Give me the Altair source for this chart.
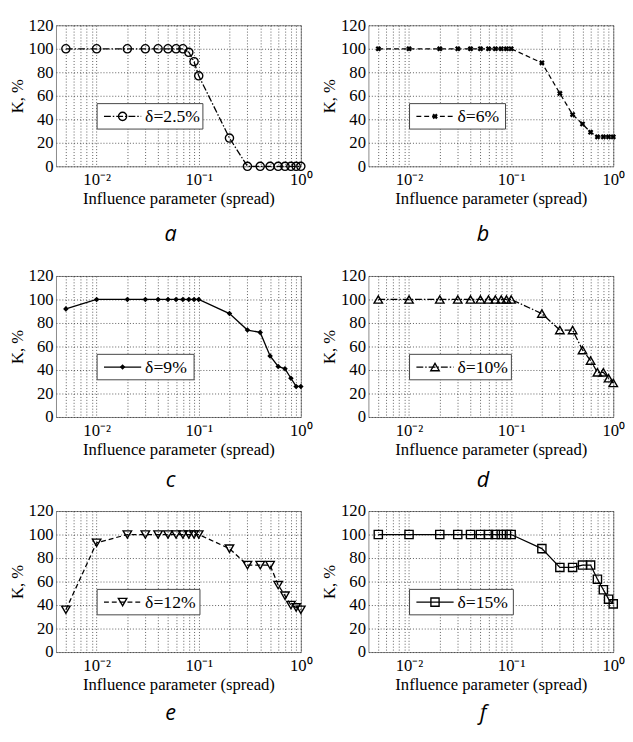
import altair as alt
import pandas as pd

# ---- data ----
spread = [0.005, 0.01, 0.02, 0.03, 0.04, 0.05, 0.06, 0.07, 0.08, 0.09, 0.1,
          0.2, 0.3, 0.4, 0.5, 0.6, 0.7, 0.8, 0.9, 1.0]

k_a = [100, 100, 100, 100, 100, 100, 100, 100, 97, 89, 77, 24, 0, 0, 0, 0, 0, 0, 0, 0]
k_b = [100, 100, 100, 100, 100, 100, 100, 100, 100, 100, 100, 88, 62, 44, 36, 29, 25, 25, 25, 25]
k_c = [92, 100, 100, 100, 100, 100, 100, 100, 100, 100, 100, 88, 74, 72, 52, 43, 41, 33, 26, 26]
k_d = [100, 100, 100, 100, 100, 100, 100, 100, 100, 100, 100, 88, 74, 74, 57, 48, 38, 38, 33, 29]
k_e = [36, 93, 100, 100, 100, 100, 100, 100, 100, 100, 100, 88, 74, 74, 74, 57, 48, 40, 38, 36]
k_f = [100, 100, 100, 100, 100, 100, 100, 100, 100, 100, 100, 88, 72, 72, 74, 74, 62, 53, 45, 41]

legend_labels = ["δ=2.5%", "δ=6%", "δ=9%", "δ=10%", "δ=12%", "δ=15%"]
captions = ["a", "b", "c", "d", "e", "f"]
series = [k_a, k_b, k_c, k_d, k_e, k_f]

x_grid = [0.005, 0.006, 0.007, 0.008, 0.009,
          0.01, 0.02, 0.03, 0.04, 0.05, 0.06, 0.07, 0.08, 0.09,
          0.1, 0.2, 0.3, 0.4, 0.5, 0.6, 0.7, 0.8, 0.9, 1.0]
y_ticks = [0, 20, 40, 60, 80, 100, 120]

# ---- styles ----
W, H = 250, 144
SERIF = "Liberation Serif"
dash_styles = [[7, 2, 1.5, 2], [5, 3], None, [7, 2, 1.5, 2], [5, 3], None]
marker_styles = [
    dict(shape="circle", size=70, filled=False),
    dict(shape="cross", size=34, filled=True, angle=45),
    dict(shape="diamond", size=32, filled=True),
    dict(shape="triangle-up", size=75, filled=False),
    dict(shape="triangle-down", size=75, filled=False),
    dict(shape="square", size=70, filled=False),
]
legend_box_w = [108, 98, 99, 104, 105, 106]
caption_y = [213, 213, 208, 208, 206, 206]

label_expr = ("datum.value == 0.01 ? '10⁻²' : datum.value == 0.1 ? '10⁻¹' : "
              "datum.value == 1 ? '10⁰' : ''")


def panel(i):
    df = pd.DataFrame({"spread": spread, "K": series[i]})
    x = alt.X("spread:Q",
              scale=alt.Scale(type="log", domain=[0.004, 1]),
              axis=alt.Axis(values=x_grid, labelExpr=label_expr, labelOverlap=False,
                            labelFlush=False, grid=True, gridDash=[1, 2],
                            gridColor="#333", gridWidth=0.8, tickSize=0, domain=False,
                            labelPadding=6, title="Influence parameter (spread)",
                            titlePadding=3))
    y = alt.Y("K:Q",
              scale=alt.Scale(domain=[0, 120]),
              axis=alt.Axis(values=y_ticks, grid=True, gridDash=[1, 2],
                            gridColor="#333", gridWidth=0.8, tickSize=0, domain=False,
                            labelPadding=3, title="K, %", titlePadding=2))

    line_kw = dict(color="black", strokeWidth=1.3)
    if dash_styles[i] is not None:
        line_kw["strokeDash"] = dash_styles[i]
    m = marker_styles[i]
    pt_kw = dict(shape=m["shape"], size=m["size"], filled=m["filled"],
                 color="black", strokeWidth=1.4, opacity=1)
    if "angle" in m:
        pt_kw["angle"] = m["angle"]

    base = alt.Chart(df)
    line = base.mark_line(**line_kw).encode(x=x, y=y)
    pts = base.mark_point(**pt_kw).encode(x=x, y=y)

    one = pd.DataFrame({"lab": [legend_labels[i]], "cap": [captions[i]]})
    bx, by = 42, 80
    bw, bh = legend_box_w[i], 26
    lg = alt.Chart(one)
    box = lg.mark_rect(fill="white", stroke="#444", strokeWidth=1).encode(
        x=alt.value(bx), x2=alt.value(bx + bw), y=alt.value(by), y2=alt.value(by + bh))
    sample = lg.mark_rule(**line_kw).encode(
        x=alt.value(bx + 7), x2=alt.value(bx + 45),
        y=alt.value(by + bh / 2), y2=alt.value(by + bh / 2))
    mk = lg.mark_point(**pt_kw).encode(x=alt.value(bx + 26), y=alt.value(by + bh / 2))
    txt = lg.mark_text(font=SERIF, fontSize=18, align="left", baseline="middle",
                       color="black").encode(
        x=alt.value(bx + 49), y=alt.value(by + bh / 2 + 1), text="lab:N")
    cap = lg.mark_text(font="Open Sans", fontStyle="italic", fontSize=22,
                       align="center", baseline="middle", color="black").encode(
        x=alt.value(W / 2 - 8), y=alt.value(caption_y[i]), text="cap:N")

    return alt.layer(line, pts, box, sample, mk, txt, cap).properties(width=W, height=H)


def spacer(h):
    return (alt.Chart(pd.DataFrame({"s": [0]}))
            .mark_point(opacity=0)
            .encode(x=alt.value(0), y=alt.value(0))
            .properties(width=1, height=h, view=alt.ViewBackground(strokeOpacity=0)))


p = [panel(i) for i in range(6)]
cells = [p[0], p[1], spacer(112), spacer(112), p[2], p[3], spacer(96), spacer(96), p[4], p[5]]

chart = (alt.concat(*cells, columns=2, spacing={"row": 0, "column": 69}, bounds="flush")
         .properties(padding={"left": 0, "top": 0, "right": 0, "bottom": 0},
                     background="white")
         .configure_view(stroke="#888", strokeWidth=1)
         .configure_axis(labelFont=SERIF, labelFontSize=17, labelColor="black",
                         titleFont=SERIF, titleFontSize=17, titleFontWeight="normal",
                         titleColor="black"))

chart.save("out.html", embed_options={"renderer": "svg", "actions": False})
